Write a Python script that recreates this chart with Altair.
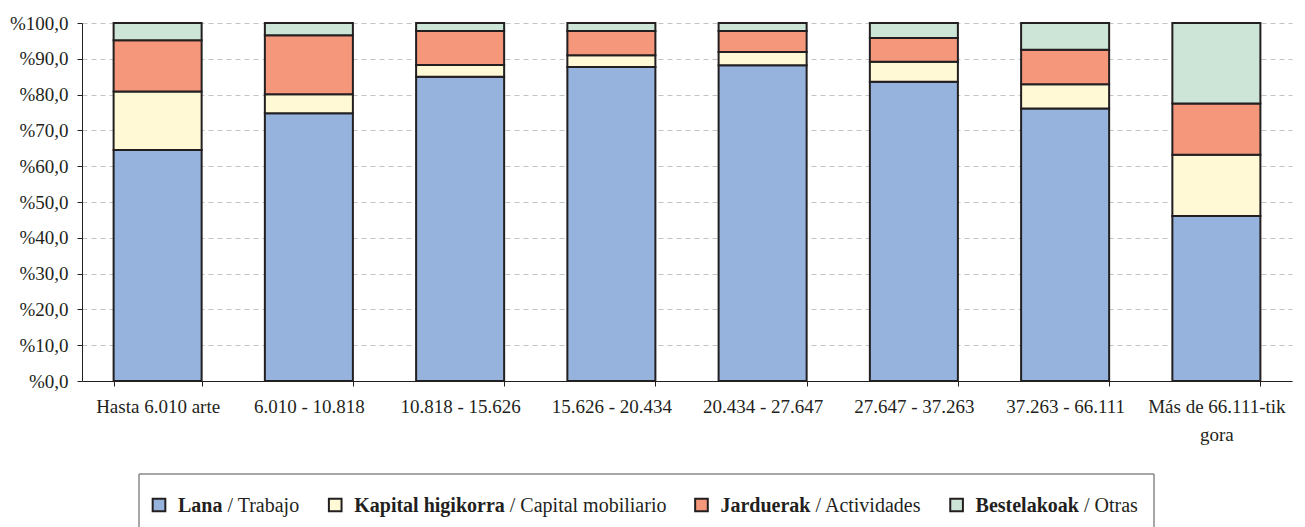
import altair as alt
import pandas as pd

# ---- data ----
categories = [
    "Hasta 6.010 arte", "6.010 - 10.818", "10.818 - 15.626", "15.626 - 20.434",
    "20.434 - 27.647", "27.647 - 37.263", "37.263 - 66.111", "Más de 66.111-tik gora",
]
series_bold = ["Lana", "Kapital higikorra", "Jarduerak", "Bestelakoak"]
series_plain = ["Trabajo", "Capital mobiliario", "Actividades", "Otras"]
lana = [64.5, 74.8, 85.0, 87.7, 88.2, 83.6, 76.1, 46.1]
kapital = [16.4, 5.3, 3.3, 3.3, 3.7, 5.6, 6.8, 17.1]
jarduerak = [14.3, 16.5, 9.5, 6.8, 5.9, 6.6, 9.6, 14.3]
bestelakoak = [4.8, 3.4, 2.2, 2.2, 2.2, 4.2, 7.5, 22.5]
y_ticks = [0, 10, 20, 30, 40, 50, 60, 70, 80, 90, 100]
colors = ["#95B3DC", "#FFF9D6", "#F5977A", "#CCE5D6"]

FONT = "Liberation Serif"
TXT = "#231f20"
EDGE = "#231f20"

values = [lana, kapital, jarduerak, bestelakoak]
rows = []
for i, cat in enumerate(categories):
    for j, s in enumerate(series_bold):
        rows.append({"cat": cat, "series": s, "idx": j, "value": values[j][i]})
df = pd.DataFrame(rows)

color_scale = alt.Scale(domain=series_bold, range=colors)

y_label = "'%' + replace(format(datum.value, '.1f'), '.', ',')"
x_label = ("datum.label == 'Más de 66.111-tik gora' ? "
           "['Más de 66.111-tik', 'gora'] : datum.label")

main = alt.Chart(df).mark_bar(stroke=EDGE, strokeWidth=2).encode(
    x=alt.X(
        "cat:N", sort=categories,
        scale=alt.Scale(paddingInner=0.418, paddingOuter=0.209),
        axis=alt.Axis(
            title=None, labelAngle=0, labelFont=FONT, labelFontSize=19,
            labelColor=TXT, labelPadding=11, tickSize=5, tickColor=EDGE,
            domainColor=EDGE, tickBand="extent", labelExpr=x_label,
            labelLineHeight=28, grid=False, labelLimit=0,
        ),
    ),
    y=alt.Y(
        "value:Q", stack="zero",
        scale=alt.Scale(domain=[0, 100], nice=False),
        axis=alt.Axis(
            values=y_ticks, title=None, labelExpr=y_label, labelFont=FONT,
            labelFontSize=19, labelColor=TXT, labelPadding=9, tickSize=5,
            tickColor=EDGE, domainColor=EDGE, grid=True, gridDash=[5, 4],
            gridColor="#c4c4c4", gridWidth=1,
        ),
    ),
    color=alt.Color("series:N", scale=color_scale, legend=None),
    order=alt.Order("idx:Q", sort="ascending"),
).properties(width=1210, height=358)

# ---- custom legend (bold + plain label parts) ----
REG = {" ": 250, "/": 278, "A": 722, "C": 667, "O": 722, "T": 611, "a": 444,
       "b": 500, "c": 444, "d": 500, "e": 444, "i": 278, "j": 278, "l": 278,
       "m": 778, "o": 500, "p": 500, "r": 333, "s": 389, "t": 278, "v": 500}
BOLD = {" ": 250, "B": 667, "J": 500, "K": 778, "L": 667, "a": 500, "d": 556,
        "e": 444, "g": 500, "h": 556, "i": 278, "k": 556, "l": 278, "n": 556,
        "o": 500, "p": 556, "r": 444, "s": 389, "t": 333, "u": 556}
LFS = 20


def tw(s, table):
    return sum(table.get(c, 500) for c in s) * LFS / 1000.0


leg_rows = []
x = 70.0
for s, p in zip(series_bold, series_plain):
    plain = "/ " + p
    bx = x + 26
    nx = bx + tw(s, BOLD) + 5
    leg_rows.append({"series": s, "sx": x + 7, "bx": bx, "nx": nx,
                     "bold": s, "plain": plain})
    x = nx + tw(plain, REG) + 28
leg = pd.DataFrame(leg_rows)

sq = alt.Chart(leg).mark_square(size=160, stroke=EDGE, strokeWidth=2, opacity=1).encode(
    x=alt.X("sx:Q", scale=None, axis=None),
    y=alt.value(31),
    color=alt.Color("series:N", scale=color_scale, legend=None),
)
tb = alt.Chart(leg).mark_text(
    align="left", baseline="alphabetic", font=FONT, fontSize=LFS,
    fontWeight="bold", color=TXT,
).encode(x=alt.X("bx:Q", scale=None, axis=None), y=alt.value(38), text="bold:N")
tp = alt.Chart(leg).mark_text(
    align="left", baseline="alphabetic", font=FONT, fontSize=LFS, color=TXT,
).encode(x=alt.X("nx:Q", scale=None, axis=None), y=alt.value(38), text="plain:N")

one = alt.Data(values=[{}])
BOX = "#8a8a8a"
top = alt.Chart(one).mark_rule(color=BOX, strokeWidth=1.5).encode(
    x=alt.value(57), x2=alt.value(1072), y=alt.value(0))
left = alt.Chart(one).mark_rule(color=BOX, strokeWidth=1.5).encode(
    x=alt.value(57), y=alt.value(0), y2=alt.value(60))
right = alt.Chart(one).mark_rule(color=BOX, strokeWidth=1.5).encode(
    x=alt.value(1072), y=alt.value(0), y2=alt.value(60))

legend = alt.layer(top, left, right, sq, tb, tp).properties(width=1210, height=60)

chart = alt.vconcat(main, legend, spacing=29).properties(
    padding={"left": 1, "top": 6, "right": 5, "bottom": 0},
    background="white",
).configure_view(stroke=None)

chart.save("out.html", embed_options={"renderer": "svg", "actions": False})
